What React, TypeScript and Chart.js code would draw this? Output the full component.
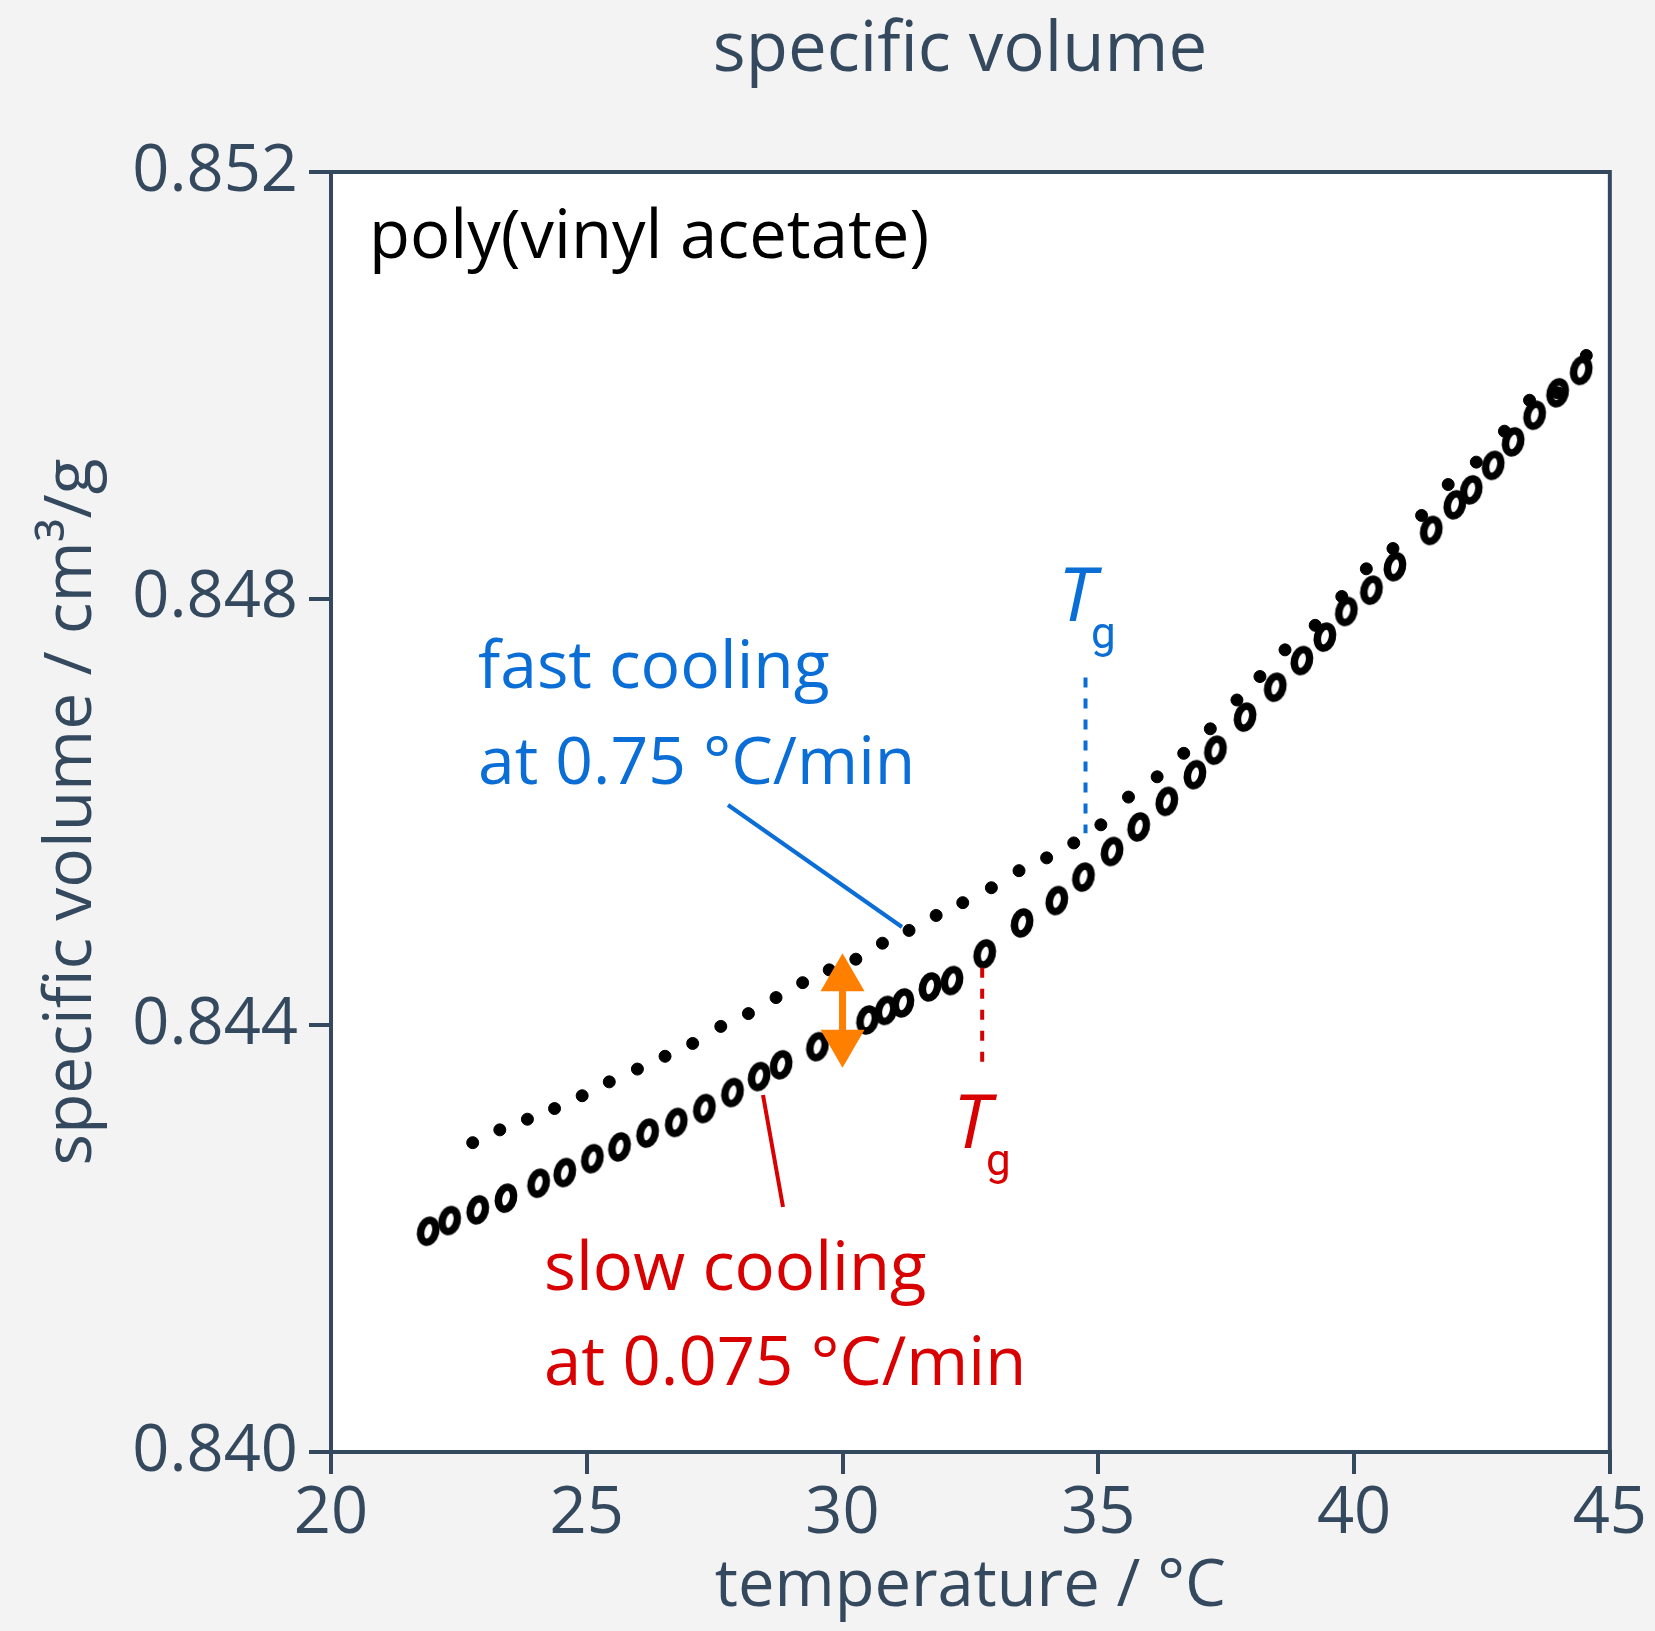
import React, { useEffect, useRef } from "react";
import { Chart, registerables } from "chart.js";

Chart.register(...registerables);

// ---- data ----
const slowT = [21.9, 22.32, 22.87, 23.42, 24.06, 24.57, 25.11, 25.64, 26.19, 26.75, 27.3, 27.85, 28.37, 28.8, 29.51, 30.49, 30.85, 31.18, 31.71, 32.14, 32.78, 33.51, 34.19, 34.71, 35.27, 35.79, 36.34, 36.89, 37.29, 37.87, 38.46, 38.98, 39.43, 39.85, 40.34, 40.8, 41.51, 41.97, 42.29, 42.72, 43.11, 43.53, 43.98, 44.44];
const slowV = [0.84207, 0.84217, 0.84227, 0.84238, 0.84252, 0.84262, 0.84275, 0.84286, 0.84299, 0.84309, 0.84322, 0.84337, 0.84352, 0.84363, 0.8438, 0.84405, 0.84414, 0.84421, 0.84436, 0.84442, 0.84467, 0.84496, 0.84517, 0.84539, 0.84563, 0.84586, 0.8461, 0.84635, 0.84658, 0.84689, 0.84717, 0.84742, 0.84764, 0.84788, 0.84808, 0.8483, 0.84864, 0.84888, 0.84902, 0.84925, 0.84947, 0.84972, 0.84993, 0.85014];

const fastT = [22.77, 23.3, 23.84, 24.37, 24.91, 25.44, 25.99, 26.53, 27.07, 27.62, 28.16, 28.7, 29.22, 29.74, 30.26, 30.78, 31.3, 31.83, 32.35, 32.91, 33.45, 33.99, 34.52, 35.05, 35.59, 36.15, 36.67, 37.19, 37.71, 38.16, 38.65, 39.24, 39.76, 40.24, 40.76, 41.32, 41.84, 42.39, 42.94, 43.43, 43.98, 44.54];
const fastV = [0.8429, 0.84302, 0.84312, 0.84322, 0.84334, 0.84347, 0.84359, 0.84371, 0.84383, 0.84399, 0.84411, 0.84426, 0.8444, 0.84452, 0.84462, 0.84477, 0.84489, 0.84503, 0.84515, 0.84529, 0.84545, 0.84557, 0.84571, 0.84588, 0.84614, 0.84633, 0.84655, 0.84678, 0.84705, 0.84727, 0.84752, 0.84775, 0.84802, 0.84828, 0.84847, 0.84878, 0.84907, 0.84928, 0.84957, 0.84986, 0.84993, 0.85028];

const xTicks = [20, 25, 30, 35, 40, 45];
const yTicks = [0.84, 0.844, 0.848, 0.852];

// Tg markers: [temperature, volume from, volume to]
const tgFast = [34.75, 0.84726, 0.8458];
const tgSlow = [32.73, 0.84454, 0.84364];
// orange arrow: [temperature, volume top, volume bottom]
const gapArrow = [30.0, 0.844675, 0.843603];

const AX = "#34495e";
const BLUE = "#0a6ed6";
const RED = "#d80000";
const ORANGE = "#ff8000";
const FONT = '"Open Sans", "Noto Sans", sans-serif';
const SUBFONT = 'Roboto, "DejaVu Sans", sans-serif';

export default function App() {
  const ref = useRef<HTMLCanvasElement>(null);

  useEffect(() => {
    document.body.style.margin = "0";
    document.body.style.background = "#f3f3f3";

    const ring = document.createElement("canvas");
    ring.width = 38;
    ring.height = 44;
    const rc = ring.getContext("2d")!;
    rc.strokeStyle = "#000";
    rc.fillStyle = "#fff";
    rc.lineWidth = 7.5;
    rc.beginPath();
    rc.ellipse(19, 22, 7.4, 11.2, 0.25, 0, Math.PI * 2);
    rc.fill();
    rc.stroke();

    const deco = {
      id: "deco",
      beforeDraw(chart: any) {
        const { ctx, chartArea: a } = chart;
        ctx.save();
        ctx.fillStyle = "#f3f3f3";
        ctx.fillRect(0, 0, chart.width, chart.height);
        ctx.fillStyle = "#ffffff";
        ctx.fillRect(a.left, a.top, a.right - a.left, a.bottom - a.top);
        ctx.restore();
      },
      afterDraw(chart: any) {
        const { ctx, chartArea: a } = chart;
        const xs = chart.scales.x;
        const ys = chart.scales.y;
        const px = (t: number) => xs.getPixelForValue(t);
        const py = (v: number) => ys.getPixelForValue(v);
        ctx.save();
        // top + right frame
        ctx.strokeStyle = AX;
        ctx.lineWidth = 4;
        ctx.beginPath();
        ctx.moveTo(a.left - 2, a.top);
        ctx.lineTo(a.right, a.top);
        ctx.lineTo(a.right, a.bottom);
        ctx.stroke();

        // title
        ctx.fillStyle = AX;
        ctx.font = `69px ${FONT}`;
        ctx.textAlign = "center";
        ctx.textBaseline = "alphabetic";
        ctx.fillText("specific volume", 960, 71);

        ctx.textAlign = "left";
        ctx.fillStyle = "#000";
        ctx.font = `67px ${FONT}`;
        ctx.fillText("poly(vinyl acetate)", 369, 258);

        // fast cooling
        ctx.fillStyle = BLUE;
        ctx.font = `66px ${FONT}`;
        ctx.fillText("fast cooling", 478, 688);
        ctx.fillText("at 0.75 \u00b0C/min", 478, 784);
        // slow cooling
        ctx.fillStyle = RED;
        ctx.font = `67px ${FONT}`;
        ctx.fillText("slow cooling", 544, 1290);
        ctx.fillText("at 0.075 \u00b0C/min", 544, 1385);

        // Tg labels
        const tg = (color: string, x: number, y: number) => {
          ctx.fillStyle = color;
          ctx.font = `italic 75px ${FONT}`;
          ctx.fillText("T", x, y);
          ctx.font = `44px ${SUBFONT}`;
          ctx.fillText("g", x + 33, y + 27);
        };
        tg(BLUE, 1058, 621);
        tg(RED, 953, 1148);

        // Tg dashed lines
        ctx.lineWidth = 4;
        ctx.setLineDash([10, 11]);
        ctx.strokeStyle = BLUE;
        ctx.beginPath();
        ctx.moveTo(px(tgFast[0]), py(tgFast[1]));
        ctx.lineTo(px(tgFast[0]), py(tgFast[2]));
        ctx.stroke();
        ctx.strokeStyle = RED;
        ctx.beginPath();
        ctx.moveTo(px(tgSlow[0]), py(tgSlow[1]));
        ctx.lineTo(px(tgSlow[0]), py(tgSlow[2]));
        ctx.stroke();
        ctx.setLineDash([]);

        // leader lines
        ctx.strokeStyle = BLUE;
        ctx.beginPath();
        ctx.moveTo(728, 805);
        ctx.lineTo(902, 927);
        ctx.stroke();
        ctx.strokeStyle = RED;
        ctx.beginPath();
        ctx.moveTo(763, 1095);
        ctx.lineTo(783, 1207);
        ctx.stroke();

        // orange double arrow
        const ax = px(gapArrow[0]);
        const y1 = py(gapArrow[1]);
        const y2 = py(gapArrow[2]);
        const hl = 38, hw = 22;
        ctx.fillStyle = ORANGE;
        ctx.fillRect(ax - 3.5, y1 + hl - 2, 7, y2 - y1 - 2 * hl + 4);
        ctx.beginPath();
        ctx.moveTo(ax, y1);
        ctx.lineTo(ax + hw, y1 + hl);
        ctx.lineTo(ax - hw, y1 + hl);
        ctx.closePath();
        ctx.fill();
        ctx.beginPath();
        ctx.moveTo(ax, y2);
        ctx.lineTo(ax + hw, y2 - hl);
        ctx.lineTo(ax - hw, y2 - hl);
        ctx.closePath();
        ctx.fill();
        ctx.restore();
      },
    };

    const chart = new Chart(ref.current!, {
      type: "scatter",
      data: {
        datasets: [
          {
            label: "fast cooling",
            data: fastT.map((t, i) => ({ x: t, y: fastV[i] })),
            pointStyle: "circle",
            pointRadius: 6,
            backgroundColor: "#000",
            borderColor: "#000",
            borderWidth: 1,
          },
          {
            label: "slow cooling",
            data: slowT.map((t, i) => ({ x: t, y: slowV[i] })),
            pointStyle: ring as any,
            pointRadius: 12,
            backgroundColor: "#fff",
            borderColor: "#000",
          },
        ],
      },
      options: {
        animation: false,
        responsive: false,
        maintainAspectRatio: false,
        layout: { padding: { left: 0, right: 43, top: 172, bottom: 0 } },
        plugins: { legend: { display: false }, tooltip: { enabled: false }, title: { display: false } },
        scales: {
          x: {
            type: "linear",
            min: 20,
            max: 45,
            afterBuildTicks: (s: any) => {
              s.ticks = xTicks.map((v) => ({ value: v }));
            },
            ticks: {
              color: AX,
              font: { family: FONT, size: 65, lineHeight: 1 },
              padding: 8,
              maxRotation: 0,
              autoSkip: false,
            },
            grid: { drawOnChartArea: false, drawTicks: true, tickLength: 22, color: AX, lineWidth: 4 },
            border: { color: AX, width: 4 },
            title: {
              display: true,
              text: "temperature / \u00b0C",
              color: AX,
              font: { family: FONT, size: 65, lineHeight: 1.2 },
              padding: { top: 0, bottom: 5 },
            },
            afterFit: (s: any) => {
              s.height = 179;
            },
          },
          y: {
            type: "linear",
            min: 0.84,
            max: 0.852,
            afterBuildTicks: (s: any) => {
              s.ticks = yTicks.map((v) => ({ value: v }));
            },
            ticks: {
              color: AX,
              font: { family: FONT, size: 65, lineHeight: 1 },
              padding: 11,
              autoSkip: false,
              callback: (v: any) => Number(v).toFixed(3),
            },
            grid: { drawOnChartArea: false, drawTicks: true, tickLength: 22, color: AX, lineWidth: 4 },
            border: { color: AX, width: 4 },
            title: {
              display: true,
              text: "specific volume / cm\u00b3/g",
              color: AX,
              font: { family: FONT, size: 66, lineHeight: 1.2 },
              padding: { top: 33, bottom: 0 },
            },
            afterFit: (s: any) => {
              s.width = 331;
            },
          },
        },
      },
      plugins: [deco],
    });

    return () => chart.destroy();
  }, []);

  return (
    <div style={{ width: 1655, height: 1631 }}>
      <canvas ref={ref} width={1655} height={1631} style={{ display: "block", width: 1655, height: 1631 }} />
    </div>
  );
}
